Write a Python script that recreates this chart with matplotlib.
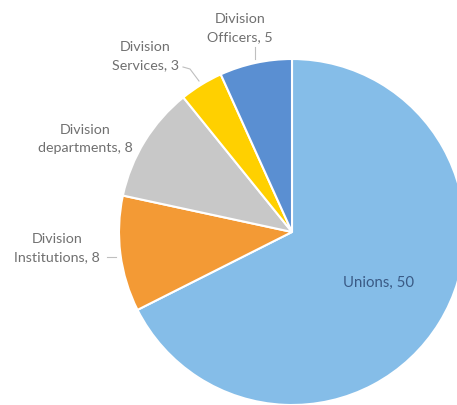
import matplotlib
matplotlib.use("Agg")
import matplotlib.pyplot as plt
import numpy as np

categories = ["Unions", "Division\nInstitutions", "Division\ndepartments", "Division\nServices", "Division\nOfficers"]
values = [50, 8, 8, 3, 5]
colors = ["#85BDE8", "#F39A35", "#C8C8C8", "#FFD000", "#5A8FD2"]

W, H = 457, 406
fig = plt.figure(figsize=(W / 100, H / 100), dpi=100)
ax = fig.add_axes([0, 0, 1, 1])

cx, cy, r = 292, H - 233, 173
wedges, _ = ax.pie(values, colors=colors, startangle=90, counterclock=False,
                   center=(cx, cy), radius=r, frame=True,
                   wedgeprops=dict(edgecolor="white", linewidth=1.5))
ax.set_xlim(0, W)
ax.set_ylim(0, H)
ax.set_aspect("equal")
ax.axis("off")

font = dict(family=["Lato", "DejaVu Sans"], fontsize=10.3, color="#707070")

# Unions label inside
ax.text(379, H - 283, f"{categories[0]}, {values[0]}", ha="center", va="center",
        family=["Lato", "DejaVu Sans"], fontsize=10.8, color="#3a5a85")

# outside labels: (text x, text y, leader points)
label_pos = {
    1: (57, H - 248, [(107, H - 258), (116, H - 258)]),
    2: (85, H - 139, None),
    3: (145, H - 56, [(183, H - 68), (190, H - 70), (199, H - 82)]),
    4: (240, H - 28, [(255, H - 48), (255, H - 60)]),
}
for i, (tx, ty, pts) in label_pos.items():
    ax.text(tx, ty, f"{categories[i]}, {values[i]}", ha="center", va="center",
            linespacing=1.55, **font)
    if pts:
        xs, ys = zip(*pts)
        ax.plot(xs, ys, color="#bfbfbf", lw=0.8)

fig.savefig("out.png", dpi=100)
